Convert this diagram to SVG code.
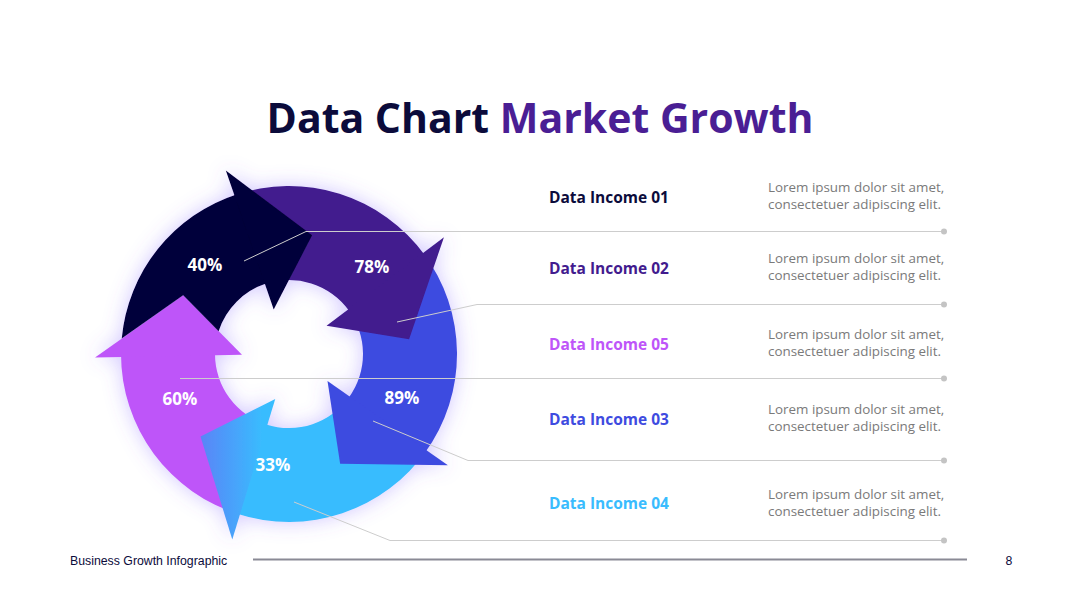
<svg xmlns="http://www.w3.org/2000/svg" width="1080" height="608" viewBox="0 0 1080 608">
<defs>
<style>
.pct{font-family:"Open Sans","Liberation Sans",sans-serif;font-weight:700;font-size:17px;fill:#ffffff;text-anchor:middle}
.lbl{font-family:"Open Sans","Liberation Sans",sans-serif;font-weight:700;font-size:15.5px}
.desc{font-family:"Open Sans","Liberation Sans",sans-serif;font-size:13.4px;fill:#7a7a7a}
.lead{fill:none;stroke:#cdcdcd;stroke-width:1}
.dot{fill:#c4c4c4}
</style>
<filter id="glow" x="-30%" y="-30%" width="160%" height="160%">
<feGaussianBlur in="SourceAlpha" stdDeviation="10" result="b"/>
<feFlood flood-color="#7a5cff" flood-opacity="0.35"/>
<feComposite in2="b" operator="in" result="s"/>
<feMerge><feMergeNode in="s"/><feMergeNode in="SourceGraphic"/></feMerge>
</filter>
<linearGradient id="lbGrad" x1="200" y1="0" x2="262" y2="0" gradientUnits="userSpaceOnUse">
<stop offset="0" stop-color="#5a84f7"/>
<stop offset="1" stop-color="#39bcfe"/>
</linearGradient>
</defs>
<rect width="1080" height="608" fill="#ffffff"/>
<text x="540" y="133" text-anchor="middle" font-family="'Open Sans','Liberation Sans',sans-serif" font-weight="700" font-size="41"><tspan fill="#0b0b3b">Data Chart </tspan><tspan fill="#4a1e94">Market Growth</tspan></text>

<g id="chart" filter="url(#glow)">
<g id="seg60">
<path d="M239.88,514.66 A168,168 0 0 1 121,354 L215,354 A74,74 0 0 0 267.36,424.77 Z" fill="#be55f9"/>
<path d="M95.03,357.39 L183.17,295.34 L242.01,354.82 Z" fill="#be55f9"/>
</g>
<g id="seg33">
<path d="M426.62,450.36 A168,168 0 0 1 237.08,513.78 L266.13,424.38 A74,74 0 0 0 349.62,396.44 Z" fill="#39bcfe"/>
<path d="M232.28,539.52 L200.51,436.52 L275.26,398.95 Z" fill="url(#lbGrad)"/>
</g>
<g id="seg89">
<path d="M423.17,252.89 A168,168 0 0 1 424.92,452.75 L348.87,397.50 A74,74 0 0 0 348.10,309.47 Z" fill="#3e4be0"/>
<path d="M447.92,465.27 L340.14,463.66 L327.50,380.96 Z" fill="#3e4be0"/>
</g>
<g id="seg78">
<path d="M234.30,195.15 A168,168 0 0 1 424.92,255.25 L348.87,310.50 A74,74 0 0 0 264.91,284.03 Z" fill="#421b8e"/>
<path d="M443.94,237.25 L409.10,339.25 L326.54,325.71 Z" fill="#421b8e"/>
</g>
<g id="seg40">
<path d="M121.71,338.61 A168,168 0 0 1 237.08,194.22 L266.13,283.62 A74,74 0 0 0 218.61,331.17 L183.17,295.34 Z" fill="#03033a"/>
<path d="M225.84,170.57 L312.09,235.22 L273.70,309.56 Z" fill="#03033a"/>
</g>
</g>

<g id="connectors">
<polyline class="lead" points="244,261 306,231.5 944,231.5"/>
<circle class="dot" cx="944" cy="231.5" r="3"/>
<polyline class="lead" points="397,322 477,304.5 944,304.5"/>
<circle class="dot" cx="944" cy="304.5" r="3"/>
<polyline class="lead" points="180,378.5 944,378.5"/>
<circle class="dot" cx="944" cy="378.5" r="3"/>
<polyline class="lead" points="373,421 468,460.5 944,460.5"/>
<circle class="dot" cx="944" cy="460.5" r="3"/>
<polyline class="lead" points="294,502 390,540.5 944,540.5"/>
<circle class="dot" cx="944" cy="540.5" r="3"/>
</g>

<g id="pcts">
<text class="pct" x="205" y="271">40%</text>
<text class="pct" x="372" y="273">78%</text>
<text class="pct" x="402" y="404">89%</text>
<text class="pct" x="180" y="405">60%</text>
<text class="pct" x="273" y="471">33%</text>
</g>

<g id="item01">
<text class="lbl" x="549" y="203" fill="#0b0b3b">Data Income 01</text>
<text class="desc" x="768" y="192">Lorem ipsum dolor sit amet,</text>
<text class="desc" x="768" y="209">consectetuer adipiscing elit.</text>
</g>
<g id="item02">
<text class="lbl" x="549" y="274" fill="#421b8e">Data Income 02</text>
<text class="desc" x="768" y="263">Lorem ipsum dolor sit amet,</text>
<text class="desc" x="768" y="280">consectetuer adipiscing elit.</text>
</g>
<g id="item05">
<text class="lbl" x="549" y="350" fill="#be55f9">Data Income 05</text>
<text class="desc" x="768" y="339">Lorem ipsum dolor sit amet,</text>
<text class="desc" x="768" y="356">consectetuer adipiscing elit.</text>
</g>
<g id="item03">
<text class="lbl" x="549" y="425" fill="#3e4be0">Data Income 03</text>
<text class="desc" x="768" y="414">Lorem ipsum dolor sit amet,</text>
<text class="desc" x="768" y="431">consectetuer adipiscing elit.</text>
</g>
<g id="item04">
<text class="lbl" x="549" y="509" fill="#39bcfe">Data Income 04</text>
<text class="desc" x="768" y="499">Lorem ipsum dolor sit amet,</text>
<text class="desc" x="768" y="516">consectetuer adipiscing elit.</text>
</g>

<g id="footer">
<text x="70" y="565" font-family="'Liberation Sans',Arial,sans-serif" font-size="12.3" fill="#0b0b3b">Business Growth Infographic</text>
<line x1="253" y1="559.5" x2="967" y2="559.5" stroke="#8a8a95" stroke-width="2"/>
<text x="1009" y="565" text-anchor="middle" font-family="'Liberation Sans',Arial,sans-serif" font-size="12.3" fill="#0b0b3b">8</text>
</g>
</svg>
